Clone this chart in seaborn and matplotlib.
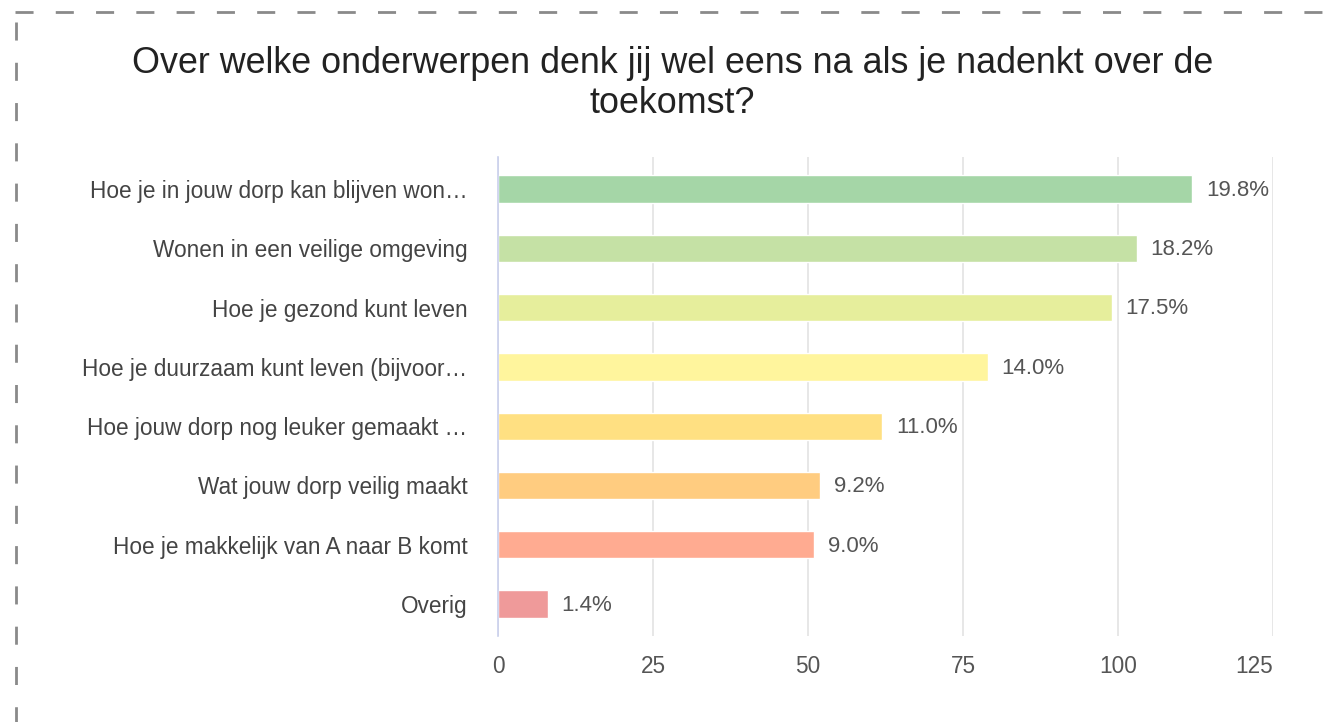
"""Horizontal bar chart: onderwerpen toekomst (survey)."""

import matplotlib.pyplot as plt
from matplotlib.lines import Line2D
import pandas as pd
import seaborn as sns

# data
categories = [
    "Hoe je in jouw dorp kan blijven won…",
    "Wonen in een veilige omgeving",
    "Hoe je gezond kunt leven",
    "Hoe je duurzaam kunt leven (bijvoor…",
    "Hoe jouw dorp nog leuker gemaakt …",
    "Wat jouw dorp veilig maakt",
    "Hoe je makkelijk van A naar B komt",
    "Overig",
]
counts = [112, 103, 99, 79, 62, 52, 51, 8]
percentages = [19.8, 18.2, 17.5, 14.0, 11.0, 9.2, 9.0, 1.4]
bar_colors = ["#A5D6A7", "#C5E1A5", "#E6EE9C", "#FFF59D",
              "#FFE082", "#FFCC80", "#FFAB91", "#EF9A9A"]
xticks = [0, 25, 50, 75, 100, 125]
title = "Over welke onderwerpen denk jij wel eens na als je nadenkt over de\ntoekomst?"

sns.set_style("white")
plt.rcParams["font.family"] = ["Liberation Sans", "DejaVu Sans"]
plt.rcParams["lines.scale_dashes"] = False

df = pd.DataFrame({"onderwerp": categories, "aantal": counts})

fig = plt.figure(figsize=(13.36, 7.22), dpi=100)
ax = fig.add_axes([0.3728, 0.1191, 0.58, 0.6634])

sns.barplot(data=df, x="aantal", y="onderwerp", hue="onderwerp",
            palette=bar_colors, legend=False, orient="h", width=0.46,
            saturation=1, ax=ax)

ax.set_xlim(0, 125)
ax.set_ylim(7.54, -0.54)
ax.set_xticks(xticks)
ax.set_xlabel("")
ax.set_ylabel("")
ax.grid(axis="x", color="#E3E3E3", linewidth=1.2)
ax.set_axisbelow(True)
for side in ["top", "right", "bottom"]:
    ax.spines[side].set_visible(False)
ax.spines["left"].set_color("#C9D0EC")
ax.spines["left"].set_linewidth(1.2)
ax.tick_params(axis="y", length=0, pad=22, labelsize=16.3, labelcolor="#444444")
ax.tick_params(axis="x", length=0, pad=14, labelsize=16.3, labelcolor="#555555")
# last tick label stays inside the plot area
ax.get_xticklabels()[-1].set_horizontalalignment("right")

# percentage labels
for cont in ax.containers:
    for bar in cont:
        idx = int(round(bar.get_y() + bar.get_height() / 2))
        ax.annotate(f"{percentages[idx]:.1f}%",
                    xy=(bar.get_width(), idx), xytext=(10, -1),
                    textcoords="offset points", va="center", ha="left",
                    fontsize=16, color="#555555")

fig.text(0.5035, 0.884, title, ha="center", va="center", fontsize=25.8,
         color="#222222", linespacing=1.2)

# dashed frame (cropped screenshot)
frame = dict(color="#8A8A8A", linewidth=2, linestyle=(0, (13, 16)),
             transform=fig.transFigure)
fig.add_artist(Line2D([15 / 1336, 1.0], [1 - 12 / 722, 1 - 12 / 722], **frame))
fig.add_artist(Line2D([16 / 1336, 16 / 1336], [1 - 22 / 722, 0.0], **frame))

fig.savefig("out.png", dpi=100)
